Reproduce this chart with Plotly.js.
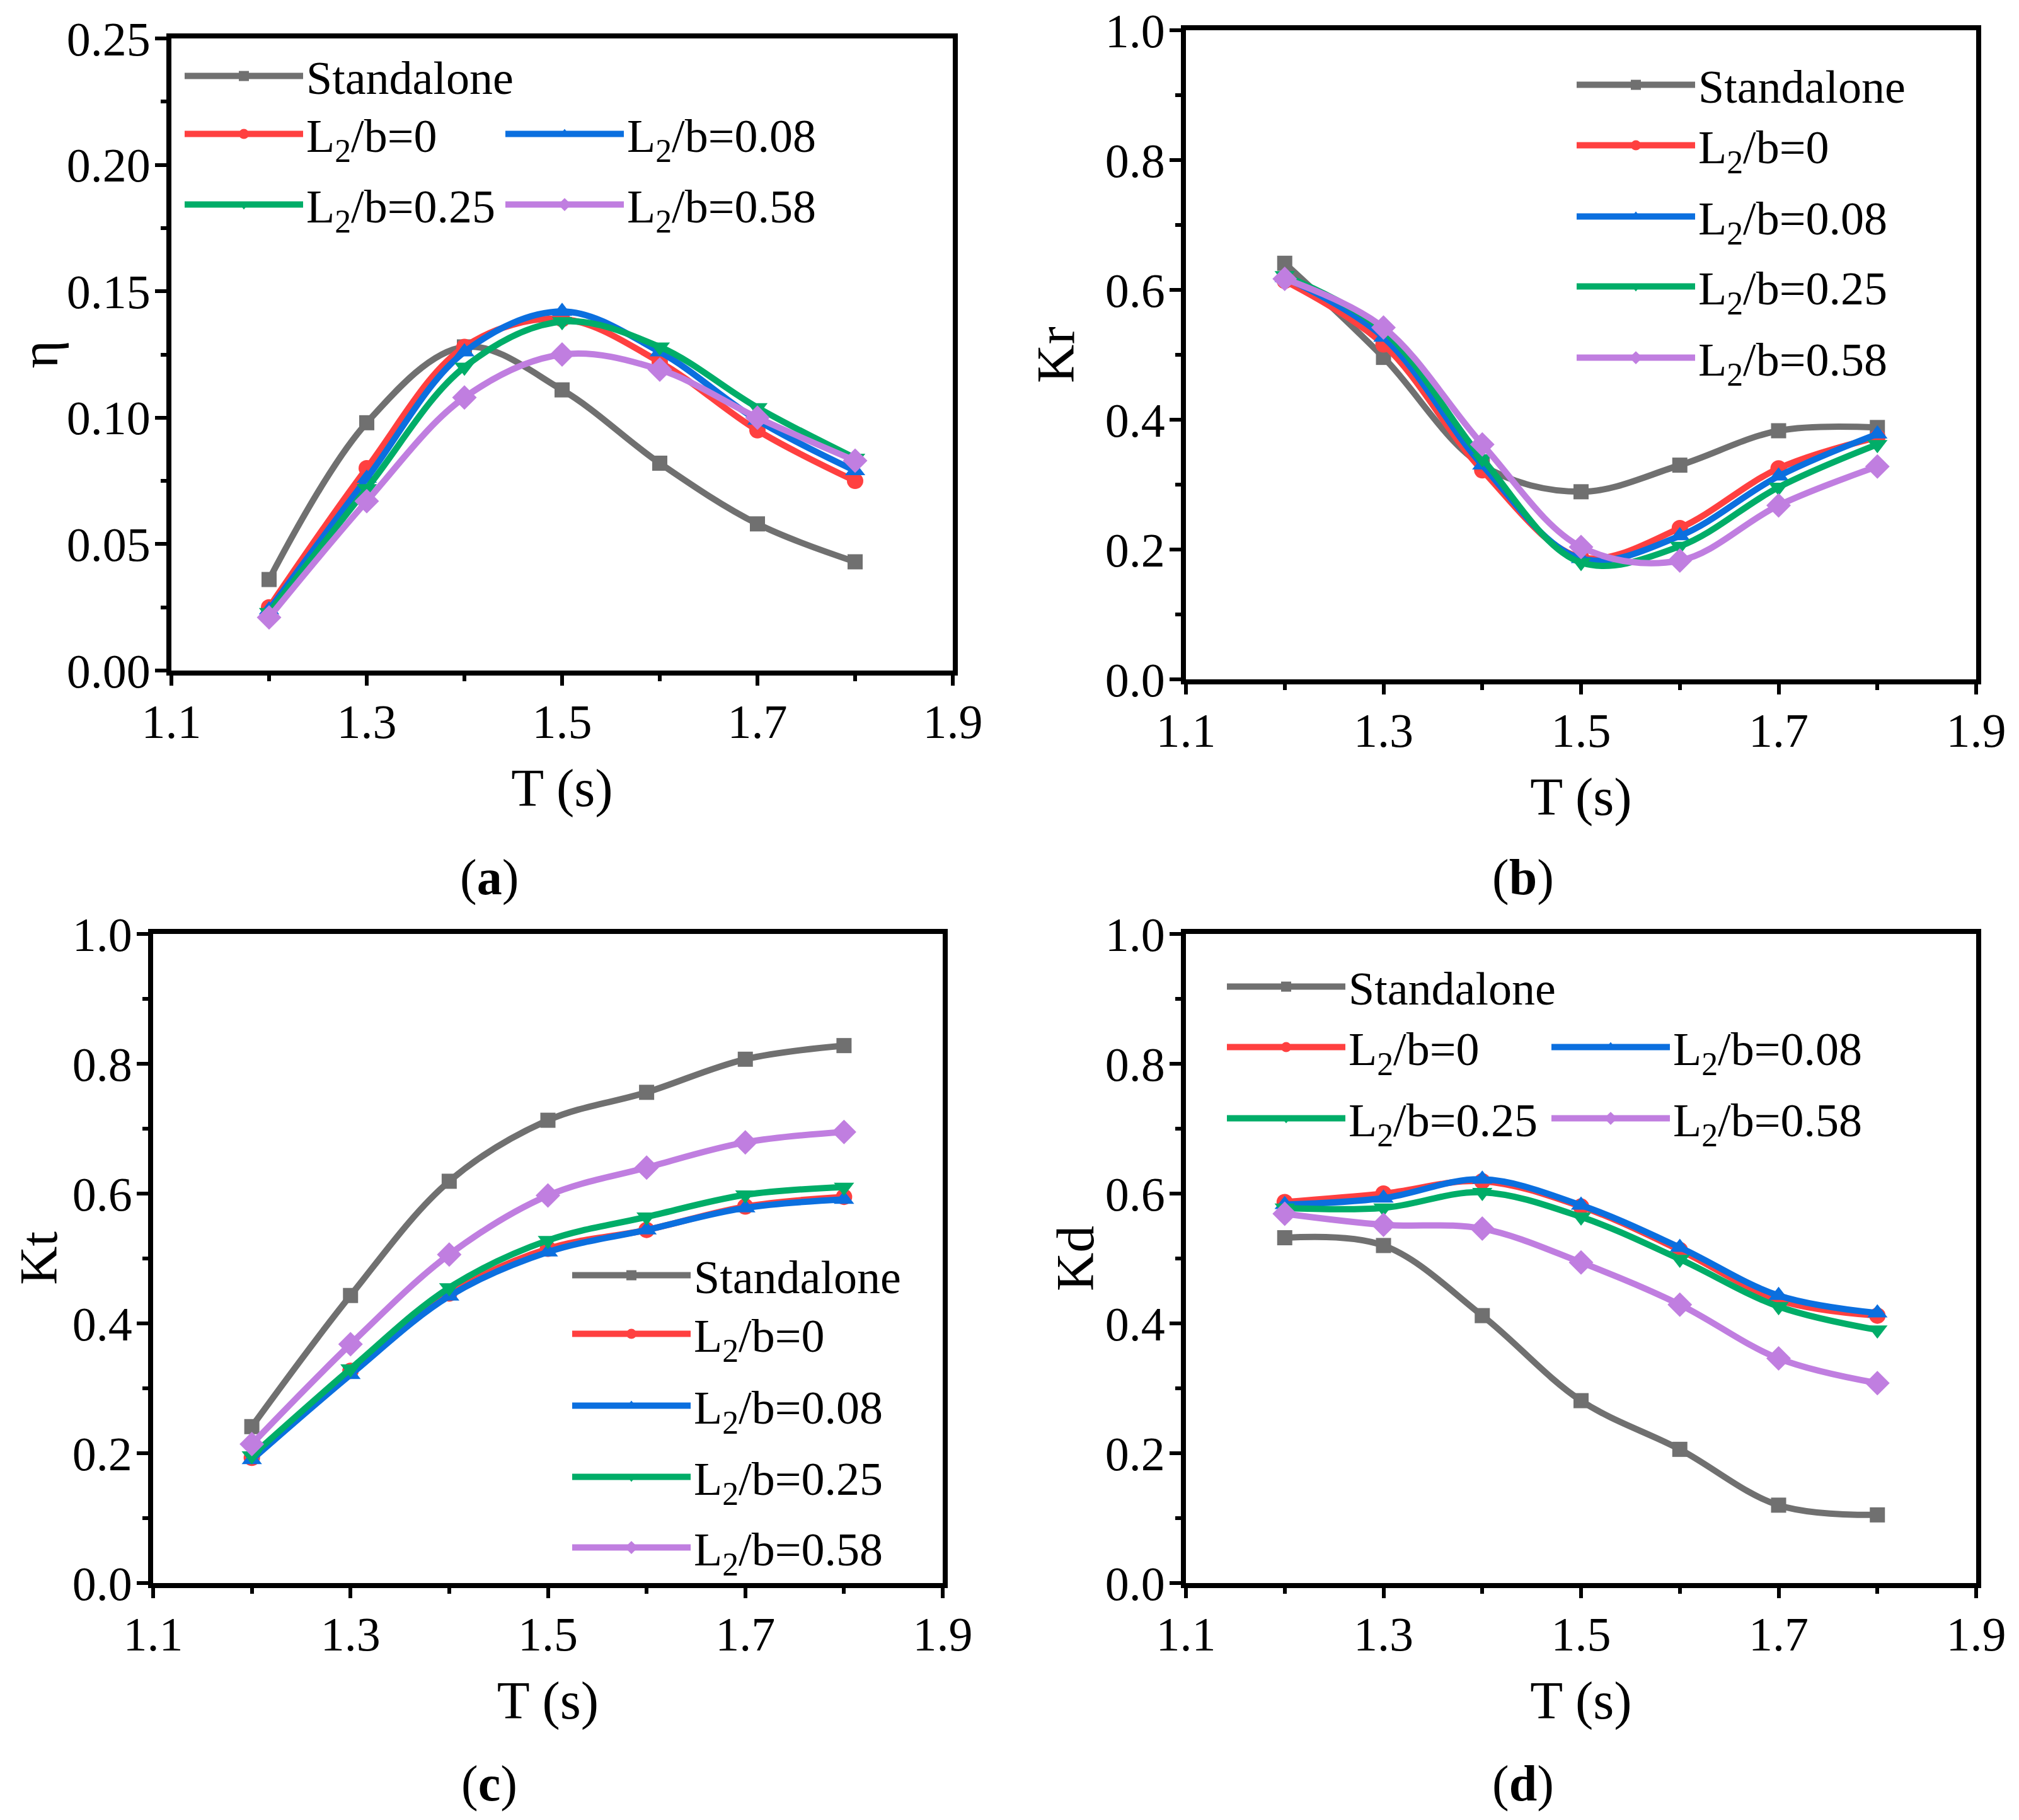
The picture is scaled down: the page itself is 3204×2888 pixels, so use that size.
<!DOCTYPE html>
<html><head><meta charset="utf-8">
<script src="https://cdn.plot.ly/plotly-3.0.1.min.js"></script>
<style>html,body{margin:0;padding:0;background:#fff}</style>
</head><body><div id="chart" style="width:3204px;height:2888px"></div>
<script>
// ---------- data ----------
const T = [1.2, 1.3, 1.4, 1.5, 1.6, 1.7, 1.8];
const seriesNames = ['Standalone', 'L<sub>2</sub>/b=0', 'L<sub>2</sub>/b=0.08', 'L<sub>2</sub>/b=0.25', 'L<sub>2</sub>/b=0.58'];
const xTickLabels = ['1.1', '1.3', '1.5', '1.7', '1.9'];

// (a) eta
const eta_standalone = [0.036, 0.098, 0.128, 0.111, 0.082, 0.058, 0.043];
const eta_L0    = [0.025, 0.080, 0.128, 0.139, 0.122, 0.095, 0.075];
const eta_L008  = [0.024, 0.076, 0.126, 0.142, 0.126, 0.099, 0.079];
const eta_L025  = [0.023, 0.072, 0.120, 0.138, 0.128, 0.104, 0.084];
const eta_L058  = [0.021, 0.067, 0.108, 0.125, 0.119, 0.100, 0.083];

// (b) Kr
const kr_standalone = [0.641, 0.496, 0.330, 0.289, 0.330, 0.383, 0.388];
const kr_L0    = [0.614, 0.516, 0.322, 0.188, 0.233, 0.325, 0.373];
const kr_L008  = [0.619, 0.527, 0.330, 0.186, 0.221, 0.313, 0.378];
const kr_L025  = [0.622, 0.537, 0.340, 0.180, 0.205, 0.296, 0.362];
const kr_L058  = [0.617, 0.542, 0.362, 0.204, 0.183, 0.268, 0.328];

// (c) Kt
const kt_standalone = [0.241, 0.443, 0.619, 0.713, 0.756, 0.807, 0.828];
const kt_L0    = [0.193, 0.327, 0.446, 0.515, 0.544, 0.580, 0.595];
const kt_L008  = [0.190, 0.321, 0.442, 0.510, 0.544, 0.578, 0.591];
const kt_L025  = [0.196, 0.330, 0.455, 0.528, 0.564, 0.598, 0.610];
const kt_L058  = [0.214, 0.368, 0.506, 0.597, 0.640, 0.679, 0.695];

// (d) Kd
const kd_standalone = [0.532, 0.520, 0.412, 0.281, 0.206, 0.120, 0.105];
const kd_L0    = [0.587, 0.600, 0.619, 0.580, 0.513, 0.436, 0.412];
const kd_L008  = [0.583, 0.593, 0.622, 0.582, 0.517, 0.443, 0.416];
const kd_L025  = [0.578, 0.578, 0.602, 0.564, 0.499, 0.426, 0.390];
const kd_L058  = [0.569, 0.552, 0.546, 0.494, 0.429, 0.346, 0.308];

const yTitles = ['η', 'Kr', 'Kt', 'Kd'];
const panelLabels = ['(<b>a</b>)', '(<b>b</b>)', '(<b>c</b>)', '(<b>d</b>)'];

// ---------- styling ----------
const W = 3204, H = 2888;
const colors = ['#707070', '#FF4040', '#0B6FDF', '#00AD68', '#C07EE0'];
const symbols = ['square', 'circle', 'triangle-up', 'triangle-down', 'diamond'];
const msizes = [24, 26, 28, 28, 30];
const FONT = 'Liberation Serif';

const panels = [
  {data: [eta_standalone, eta_L0, eta_L008, eta_L025, eta_L058], px: [272, 1512], py: [61, 1064], yr: [0, 0.25], dt: 0.05, fmt: '.2f'},
  {data: [kr_standalone, kr_L0, kr_L008, kr_L025, kr_L058], px: [1882, 3136], py: [48, 1078], yr: [0, 1], dt: 0.2, fmt: '.1f'},
  {data: [kt_standalone, kt_L0, kt_L008, kt_L025, kt_L058], px: [243, 1496], py: [1482, 2512], yr: [0, 1], dt: 0.2, fmt: '.1f'},
  {data: [kd_standalone, kd_L0, kd_L008, kd_L025, kd_L058], px: [1882, 3136], py: [1482, 2512], yr: [0, 1], dt: 0.2, fmt: '.1f'}
];

// legend entry anchors: [sample-line start x, row centre y] in px, one per series
const legendPos = [
  [[296, 121], [296, 213], [805, 213], [296, 325], [805, 325]],
  [[2505, 135], [2505, 231], [2505, 344], [2505, 455], [2505, 568]],
  [[911, 2024], [911, 2117], [911, 2231], [911, 2344], [911, 2456]],
  [[1950, 1566], [1950, 1662], [2465, 1662], [1950, 1775], [2465, 1775]]
];
const yTitlePos = [61, 1675, 61, 1706];
const labelPos = [[776, 1393], [2417, 1393], [776, 2830], [2417, 2830]];

const traces = [];
const layout = {
  width: W, height: H,
  margin: {l: 0, r: 0, t: 0, b: 0},
  paper_bgcolor: '#fff', plot_bgcolor: '#fff',
  font: {family: FONT, size: 74, color: '#000'},
  showlegend: true,
  annotations: []
};

let legendCount = 0;
panels.forEach((p, i) => {
  const ax = i === 0 ? '' : String(i + 1);
  p.data.forEach((vals, s) => {
    legendCount++;
    const lid = legendCount === 1 ? 'legend' : 'legend' + legendCount;
    traces.push({
      type: 'scatter', mode: 'lines+markers',
      x: T, y: vals, name: seriesNames[s],
      xaxis: 'x' + ax, yaxis: 'y' + ax,
      legend: lid,
      line: {color: colors[s], width: 10, shape: 'spline', smoothing: 1},
      marker: {symbol: symbols[s], size: msizes[s], color: colors[s]}
    });
    const pos = legendPos[i][s];
    layout[lid] = {
      x: (pos[0] - 8) / W, y: 1 - pos[1] / H, xanchor: 'left', yanchor: 'middle',
      xref: 'paper', yref: 'paper',
      bgcolor: 'rgba(0,0,0,0)', borderwidth: 0,
      font: {family: FONT, size: 74, color: '#000'},
      itemwidth: 188, itemsizing: 'trace'
    };
  });
  const common = {
    showline: true, linewidth: 8, linecolor: '#000', mirror: true,
    ticks: 'outside', tickwidth: 6, tickcolor: '#000',
    showgrid: false, zeroline: false,
    tickfont: {family: FONT, size: 76, color: '#000'},
    ticklabelstandoff: -8
  };
  layout['xaxis' + ax] = Object.assign({}, common, {
    domain: [p.px[0] / W, p.px[1] / W], anchor: 'y' + ax,
    range: [1.1, 1.9], tickmode: 'array', tickvals: [1.1, 1.3, 1.5, 1.7, 1.9], ticktext: xTickLabels,
    ticklen: 16,
    minor: {tickvals: [1.2, 1.4, 1.6, 1.8], ticks: 'outside', ticklen: 9, tickwidth: 6, tickcolor: '#000', showgrid: false},
    title: {text: 'T (s)', font: {family: FONT, size: 85, color: '#000'}, standoff: 36}
  });
  layout['yaxis' + ax] = Object.assign({}, common, {
    domain: [1 - p.py[1] / H, 1 - p.py[0] / H], anchor: 'x' + ax,
    range: p.yr, dtick: p.dt, tick0: 0, tickformat: p.fmt,
    ticklen: 18,
    minor: {dtick: p.dt / 2, ticks: 'outside', ticklen: 9, tickwidth: 6, tickcolor: '#000', showgrid: false},
    title: {text: ''}
  });
  layout.annotations.push({
    text: yTitles[i], xref: 'paper', yref: 'paper', textangle: -90,
    x: yTitlePos[i] / W, y: 1 - ((p.py[0] + p.py[1]) / 2) / H, xanchor: 'center', yanchor: 'middle',
    showarrow: false, font: {family: FONT, size: 85, color: '#000'}
  });
  layout.annotations.push({
    text: panelLabels[i], xref: 'paper', yref: 'paper',
    x: labelPos[i][0] / W, y: 1 - labelPos[i][1] / H, xanchor: 'center', yanchor: 'middle',
    showarrow: false, font: {family: FONT, size: 80, color: '#000'}
  });
});

Plotly.newPlot('chart', traces, layout, {displayModeBar: false});
</script>
</body></html>
